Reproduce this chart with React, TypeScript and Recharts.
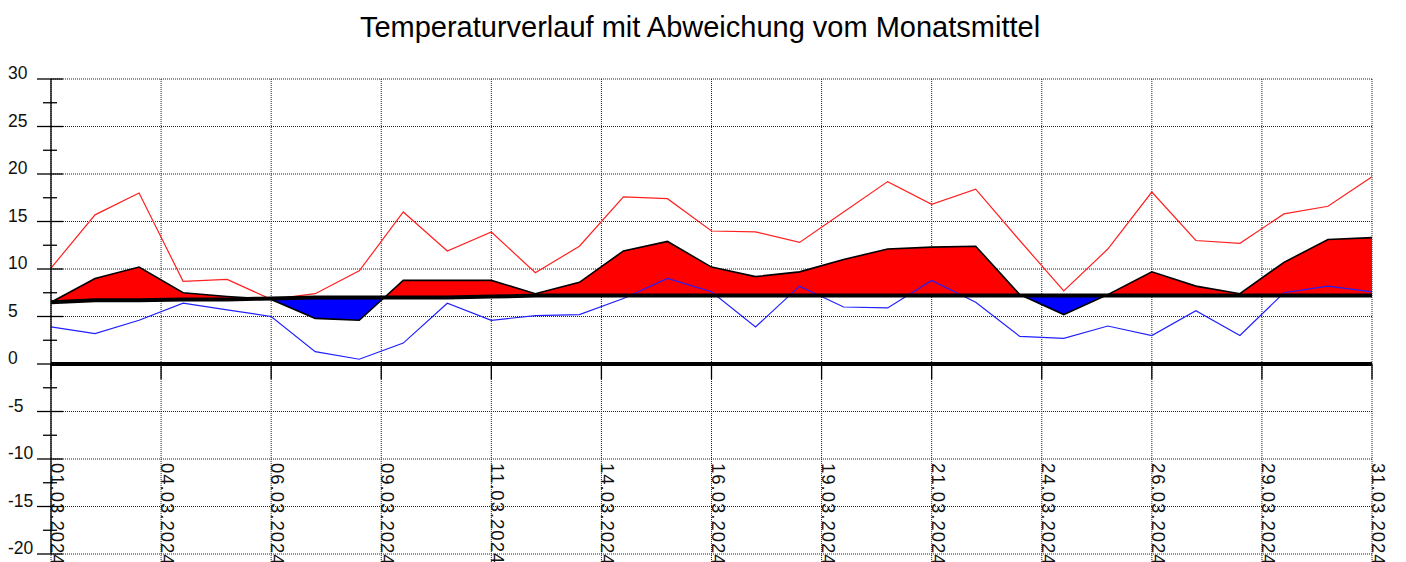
import React from "react";
import {
  ComposedChart,
  Line,
  Area,
  XAxis,
  YAxis,
  CartesianGrid,
  ReferenceLine,
} from "recharts";

const days = [1, 2, 3, 4, 5, 6, 7, 8, 9, 10, 11, 12, 13, 14, 15, 16, 17, 18, 19, 20, 21, 22, 23, 24, 25, 26, 27, 28, 29, 30, 31];

const tMax = [10.1, 15.7, 18.0, 8.7, 8.9, 6.8, 7.4, 9.8, 16.0, 11.9, 13.9, 9.6, 12.4, 17.6, 17.4, 14.0, 13.9, 12.8, 16.0, 19.2, 16.8, 18.4, 13.0, 7.7, 12.1, 18.1, 13.0, 12.7, 15.8, 16.6, 19.7];

const tMin = [3.9, 3.2, 4.6, 6.4, 5.7, 5.0, 1.3, 0.5, 2.2, 6.4, 4.6, 5.1, 5.2, 6.9, 9.0, 7.6, 3.9, 8.2, 6.0, 5.9, 8.8, 6.5, 2.9, 2.7, 4.0, 3.0, 5.6, 3.0, 7.5, 8.2, 7.6];

const tMean = [6.5, 9.0, 10.2, 7.5, 7.1, 6.8, 4.8, 4.6, 8.8, 8.8, 8.8, 7.4, 8.6, 11.9, 12.9, 10.2, 9.2, 9.7, 11.0, 12.1, 12.3, 12.4, 7.3, 5.2, 7.3, 9.7, 8.2, 7.4, 10.7, 13.1, 13.3];

const monthlyMean = [6.5, 6.7, 6.7, 6.8, 6.8, 6.9, 7.0, 7.0, 7.0, 7.0, 7.1, 7.2, 7.2, 7.2, 7.2, 7.2, 7.2, 7.2, 7.2, 7.2, 7.2, 7.2, 7.2, 7.2, 7.2, 7.2, 7.2, 7.2, 7.2, 7.2, 7.2];

const xTicks = [1, 3.5, 6, 8.5, 11, 13.5, 16, 18.5, 21, 23.5, 26, 28.5, 31];
const xTickLabels = [
  "01.03.2024", "04.03.2024", "06.03.2024", "09.03.2024", "11.03.2024",
  "14.03.2024", "16.03.2024", "19.03.2024", "21.03.2024", "24.03.2024",
  "26.03.2024", "29.03.2024", "31.03.2024",
];
const yTicks = [-20, -17.5, -15, -12.5, -10, -7.5, -5, -2.5, 0, 2.5, 5, 7.5, 10, 12.5, 15, 17.5, 20, 22.5, 25, 27.5, 30];
const yGrid = [-20, -15, -10, -5, 0, 5, 10, 15, 20, 25, 30];

const FONT = "'Liberation Sans', Arial, sans-serif";

// One row per day, plus the points where the daily mean crosses the monthly mean (for the fill)
const rows: any[] = [];
for (let i = 0; i < days.length; i++) {
  rows.push({ x: days[i], ref: monthlyMean[i], mean: tMean[i], max: tMax[i], min: tMin[i] });
  if (i < days.length - 1) {
    const d0 = tMean[i] - monthlyMean[i];
    const d1 = tMean[i + 1] - monthlyMean[i + 1];
    if (d0 * d1 < 0) {
      const t = d0 / (d0 - d1);
      const cx = days[i] + t * (days[i + 1] - days[i]);
      const cv = tMean[i] + t * (tMean[i + 1] - tMean[i]);
      rows.push({ x: cx, ref: cv, mean: cv });
    }
  }
}

const YTick = (props: any) => {
  const { x, y, payload } = props;
  const v = payload.value;
  const major = Math.abs(v % 5) < 1e-9;
  return (
    <g>
      <line
        x1={major ? x - 14 : x - 8}
        x2={major ? x + 12 : x + 6}
        y1={y}
        y2={y}
        stroke="#000"
        strokeWidth={1.3}
      />
      {major && (
        <text x={x - 43} y={y} fontSize={17.5} fontFamily={FONT} fill="#111" textAnchor="start">
          {String(v)}
        </text>
      )}
    </g>
  );
};

const XTick = (props: any) => {
  const { x, y, payload } = props;
  const idx = xTicks.indexOf(payload.value);
  const ty = y - 99;
  return (
    <text
      x={x}
      y={ty}
      transform={`rotate(90 ${x} ${ty})`}
      fontSize={18.5}
      letterSpacing={1}
      fontFamily={FONT}
      fill="#111"
      textAnchor="start"
    >
      {idx >= 0 ? xTickLabels[idx] : ""}
    </text>
  );
};

export default function App() {
  return (
    <div style={{ position: "absolute", left: 0, top: 0, width: 1406, height: 562, background: "#fff", overflow: "hidden" }}>
      <svg width={1406} height={60} style={{ position: "absolute", left: 0, top: 0 }}>
        <text x={700} y={36.5} textAnchor="middle" fontSize={29} fontFamily={FONT} fill="#000">
          Temperaturverlauf mit Abweichung vom Monatsmittel
        </text>
      </svg>
      <div style={{ position: "absolute", left: 0, top: 0 }}>
        <ComposedChart
          width={1406}
          height={592}
          data={rows}
          margin={{ top: 79, right: 34, bottom: 8, left: 0 }}
        >
          <CartesianGrid
            stroke="#222"
            strokeDasharray="1 1"
            horizontalValues={yGrid}
            verticalValues={xTicks}
          />
          <XAxis
            dataKey="x"
            type="number"
            domain={[1, 31]}
            ticks={xTicks}
            height={30}
            tickSize={8}
            tickMargin={0}
            axisLine={false}
            tickLine={{ stroke: "#222", strokeDasharray: "1 1" }}
            tick={<XTick />}
            interval={0}
          />
          <YAxis
            type="number"
            domain={[-20, 30]}
            ticks={yTicks}
            width={51}
            tickSize={0}
            tickMargin={0}
            axisLine={{ stroke: "#000", strokeWidth: 1.3 }}
            tickLine={false}
            tick={<YTick />}
            interval={0}
            allowDataOverflow
          />
          <Area
            type="linear"
            dataKey={(r: any) => [r.ref, Math.max(r.mean, r.ref)]}
            stroke="none"
            fill="#ff0000"
            fillOpacity={1}
            isAnimationActive={false}
            dot={false}
            activeDot={false}
          />
          <Area
            type="linear"
            dataKey={(r: any) => [Math.min(r.mean, r.ref), r.ref]}
            stroke="none"
            fill="#0000ff"
            fillOpacity={1}
            isAnimationActive={false}
            dot={false}
            activeDot={false}
          />
          {xTicks.map((t) => (
            <ReferenceLine
              key={t}
              segment={[{ x: t, y: 0 }, { x: t, y: -1.6 }]}
              stroke="#000"
              strokeWidth={1.3}
            />
          ))}
          <Line
            type="linear"
            dataKey="max"
            stroke="#ff2020"
            strokeWidth={1.2}
            dot={false}
            activeDot={false}
            connectNulls
            isAnimationActive={false}
          />
          <Line
            type="linear"
            dataKey="min"
            stroke="#2020ff"
            strokeWidth={1.2}
            dot={false}
            activeDot={false}
            connectNulls
            isAnimationActive={false}
          />
          <Line
            type="linear"
            dataKey="mean"
            stroke="#000"
            strokeWidth={1.6}
            dot={false}
            activeDot={false}
            isAnimationActive={false}
          />
          <Line
            type="linear"
            dataKey="ref"
            stroke="#000"
            strokeWidth={4}
            dot={false}
            activeDot={false}
            isAnimationActive={false}
          />
          <ReferenceLine y={0} stroke="#000" strokeWidth={4} />
        </ComposedChart>
      </div>
    </div>
  );
}
